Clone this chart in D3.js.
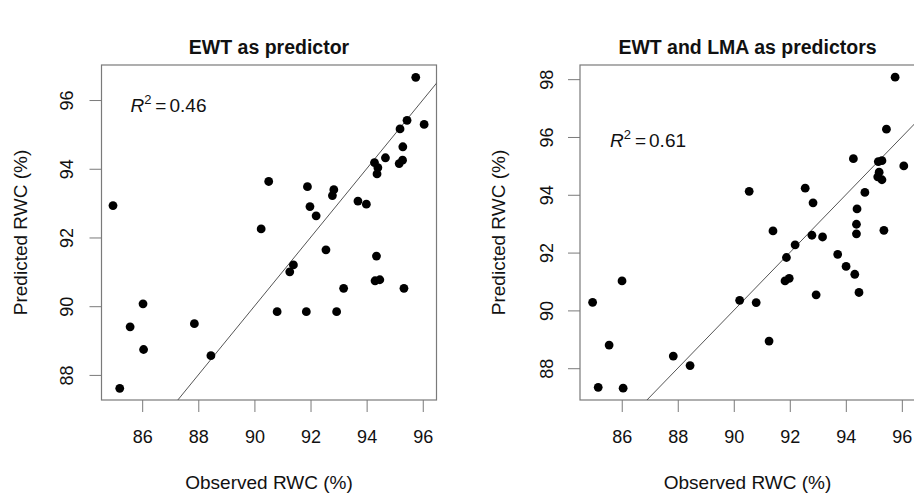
<!DOCTYPE html>
<html>
<head>
<meta charset="utf-8">
<script src="https://cdn.jsdelivr.net/npm/d3@7"></script>
<style>
  body { margin: 0; background: #fff; }
  text { font-family: "Liberation Sans", Arial, sans-serif; fill: #111; }
</style>
</head>
<body>
<script>
"use strict";

// observed vs predicted RWC
const leftObserved = [84.96, 85.20, 85.57, 86.03, 86.05, 87.86, 88.45, 90.24, 90.51, 90.81,
  91.26, 91.39, 91.85, 91.89, 91.98, 92.20, 92.55, 92.78, 92.83, 92.93,
  93.18, 93.69, 93.99, 94.28, 94.30, 94.35, 94.37, 94.40, 94.47, 94.67,
  95.16, 95.19, 95.28, 95.29, 95.33, 95.44, 95.75, 96.05];
const leftPredicted = [92.93, 87.61, 89.40, 90.07, 88.74, 89.49, 88.56, 92.25, 93.63, 89.84,
  91.00, 91.20, 89.84, 93.48, 92.90, 92.63, 91.64, 93.22, 93.39, 89.84,
  90.52, 93.06, 92.97, 94.18, 90.74, 91.46, 93.85, 94.03, 90.77, 94.32,
  94.15, 95.16, 94.25, 94.64, 90.52, 95.41, 96.66, 95.29];

const rightObserved = [84.96, 85.16, 85.55, 86.01, 86.05, 87.84, 88.44, 90.21, 90.55, 90.80,
  91.26, 91.40, 91.83, 91.88, 91.98, 92.19, 92.55, 92.79, 92.83, 92.94,
  93.17, 93.71, 94.01, 94.27, 94.32, 94.38, 94.38, 94.40, 94.47, 94.68,
  95.14, 95.16, 95.19, 95.29, 95.29, 95.36, 95.45, 95.76, 96.07];
const rightPredicted = [90.28, 87.34, 88.80, 91.02, 87.31, 88.42, 88.09, 90.35, 94.12, 90.27,
  88.94, 92.75, 91.02, 91.83, 91.11, 92.27, 94.23, 92.60, 93.72, 90.54,
  92.54, 91.94, 91.52, 95.25, 91.25, 92.98, 92.65, 93.51, 90.62, 94.08,
  94.62, 95.15, 94.78, 95.18, 94.52, 92.77, 96.27, 98.07, 95.00];

const xTicks = [86, 88, 90, 92, 94, 96];
const leftYTicks = [88, 90, 92, 94, 96];
const rightYTicks = [88, 90, 92, 94, 96, 98];

const panelTitles = ["EWT as predictor", "EWT and LMA as predictors"];
const r2Values = ["0.46", "0.61"];
const r2Pos = [85.58, 95.65];

const xTitle = "Observed RWC (%)";
const yTitle = "Predicted RWC (%)";

const width = 914, height = 495;

const svg = d3.select("body")
  .append("svg")
  .attr("width", width)
  .attr("height", height);

const panels = [
  { left: 101.5, xDom: [84.55, 96.49], yDom: [87.27, 97.02],
    obs: leftObserved, pred: leftPredicted, yTicks: leftYTicks,
    title: panelTitles[0], r2: r2Values[0] },
  { left: 580, xDom: [84.51, 96.47], yDom: [86.90, 98.49],
    obs: rightObserved, pred: rightPredicted, yTicks: rightYTicks,
    title: panelTitles[1], r2: r2Values[1] }
];

const plotTop = 65, size = 335;

panels.forEach((p, i) => {
  const g = svg.append("g").attr("transform", `translate(${p.left},${plotTop})`);

  const x = d3.scaleLinear().domain(p.xDom).range([0, size]);
  const y = d3.scaleLinear().domain(p.yDom).range([size, 0]);

  // clip for the 1:1 line
  g.append("clipPath")
    .attr("id", "clip" + i)
    .append("rect")
    .attr("width", size)
    .attr("height", size);

  // x axis
  const xa = g.append("g")
    .attr("transform", `translate(0,${size})`)
    .call(d3.axisBottom(x).tickValues(xTicks).tickSize(12).tickSizeOuter(0));
  xa.select(".domain").remove();
  xa.selectAll("line").attr("stroke", "#7a7a7a");
  xa.selectAll("text")
    .attr("y", 43)
    .attr("dy", 0)
    .style("font-size", "18px")
    .attr("font-family", null);

  // y axis, labels parallel to the axis like R
  const ya = g.append("g")
    .call(d3.axisLeft(y).tickValues(p.yTicks).tickSize(12).tickSizeOuter(0));
  ya.select(".domain").remove();
  ya.selectAll("line").attr("stroke", "#7a7a7a");
  ya.selectAll("text")
    .attr("x", 0)
    .attr("dy", 0)
    .attr("text-anchor", "middle")
    .attr("transform", i === 0 ? "translate(-29,0) rotate(-90)" : "translate(-27,0) rotate(-90)")
    .style("font-size", "18px")
    .attr("font-family", null);

  // box
  g.append("rect")
    .attr("width", size)
    .attr("height", size)
    .attr("fill", "none")
    .attr("stroke", "#7a7a7a")
    .attr("stroke-width", 1.2);

  // 1:1 line
  const lo = Math.min(p.xDom[0], p.yDom[0]);
  const hi = Math.max(p.xDom[1], p.yDom[1]);
  g.append("line")
    .attr("clip-path", `url(#clip${i})`)
    .attr("x1", x(lo)).attr("y1", y(lo))
    .attr("x2", x(hi)).attr("y2", y(hi))
    .attr("stroke", "#555")
    .attr("stroke-width", 1);

  // points
  g.append("g")
    .selectAll("circle")
    .data(p.obs.map((d, k) => [d, p.pred[k]]))
    .enter()
    .append("circle")
    .attr("cx", d => x(d[0]))
    .attr("cy", d => y(d[1]))
    .attr("r", 4.4)
    .attr("fill", "#000");

  // R^2 label
  const t = g.append("text")
    .attr("x", x(r2Pos[0]))
    .attr("y", y(r2Pos[1]))
    .style("font-size", "19px");
  t.append("tspan").attr("font-style", "italic").text("R");
  t.append("tspan").attr("dy", -8).style("font-size", "13px").text("2");
  t.append("tspan").attr("dy", 8).attr("dx", 4).text("=");
  t.append("tspan").attr("dx", 3).text(p.r2);

  // titles
  g.append("text")
    .attr("x", size / 2)
    .attr("y", 54 - plotTop)
    .attr("text-anchor", "middle")
    .style("font-size", "19.5px")
    .style("font-weight", "bold")
    .text(p.title);

  g.append("text")
    .attr("x", size / 2)
    .attr("y", 489 - plotTop)
    .attr("text-anchor", "middle")
    .style("font-size", "19px")
    .text(xTitle);

  g.append("text")
    .attr("transform", `translate(-75,${size / 2}) rotate(-90)`)
    .attr("text-anchor", "middle")
    .style("font-size", "19px")
    .text(yTitle);
});
</script>
</body>
</html>
